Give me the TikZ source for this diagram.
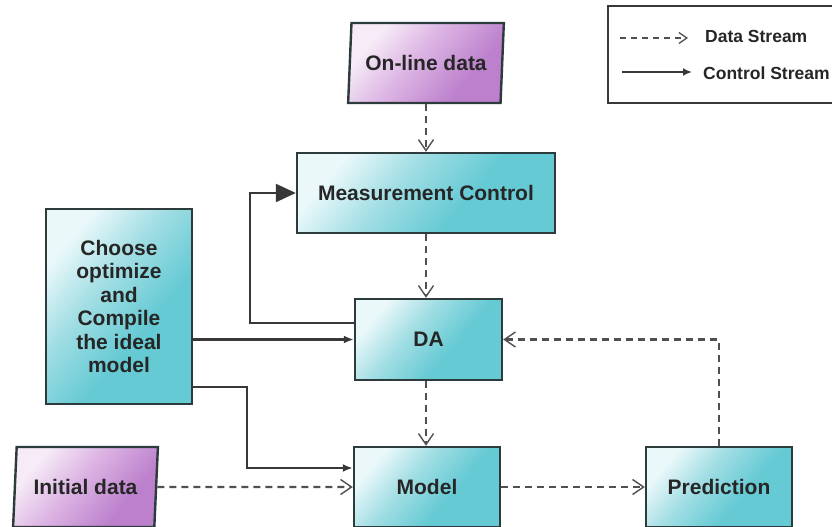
\documentclass[tikz,border=0pt]{standalone}
\usepackage{fontspec}
\setmainfont{Liberation Sans}
\usetikzlibrary{shapes.geometric,arrows.meta}
\definecolor{cyanlight}{HTML}{EAF8FA}
\definecolor{cyanmid}{HTML}{A2DEE4}
\definecolor{cyandark}{HTML}{66CAD4}
\definecolor{purplelight}{HTML}{F6EBF7}
\definecolor{purplemid}{HTML}{DDB6E4}
\definecolor{purpledark}{HTML}{BC80CC}
\definecolor{edgegray}{HTML}{2E3B3D}
\definecolor{linegray}{HTML}{383838}
\definecolor{dashgray}{HTML}{505050}
\pgfdeclarehorizontalshading{cyanshade}{100bp}{color(0bp)=(cyanlight); color(26bp)=(cyanlight); color(42bp)=(cyanmid); color(60bp)=(cyandark); color(100bp)=(cyandark)}
\pgfdeclarehorizontalshading{purpleshade}{100bp}{color(0bp)=(purplelight); color(27bp)=(purplelight); color(45bp)=(purplemid); color(68bp)=(purpledark); color(100bp)=(purpledark)}
\tikzset{
  procbox/.style={draw=edgegray, line width=2.4pt, inner sep=0pt,
    shading=cyanshade, shading angle=-40,
    font=\bfseries\fontsize{21}{23.5}\selectfont, text=black!85, align=center},
  databox/.style={trapezium, trapezium left angle=80, trapezium right angle=100,
    trapezium stretches=true, draw=edgegray, line width=2.4pt, inner sep=0pt,
    shading=purpleshade, shading angle=-40,
    font=\bfseries\fontsize{21}{23.5}\selectfont, text=black!85},
  dataflow/.style={draw=dashgray, line width=2.2pt, dash pattern=on 7pt off 5pt,
    -{Straight Barb[length=11pt,width=15pt,line width=1.4pt]}},
  ctrlflow/.style={draw=linegray, line width=2.2pt, -{Latex[length=10pt,width=8pt]}},
  bigctrl/.style={draw=linegray, line width=2.2pt, -{Triangle[length=20pt,width=18pt]}},
  legendtext/.style={font=\bfseries\fontsize{17.5}{20}\selectfont, text=black!85, anchor=west, inner sep=0pt}
}
\begin{document}
\begin{tikzpicture}[x=1pt,y=-1pt]
\clip (0,0) rectangle (832,527);
\fill[white] (0,0) rectangle (832,527);

% legend
\node[draw=linegray, line width=2.2pt, minimum width=232pt, minimum height=97pt, inner sep=0pt] (legend) at (724,54.5) {};
\coordinate (l1a) at (620,38);
\coordinate (l1b) at (688,38);
\coordinate (l2a) at (622,72);
\coordinate (l2b) at (692,72);
\draw[draw=dashgray, line width=2pt, dash pattern=on 6pt off 5pt,
  -{Straight Barb[length=8pt,width=11pt,line width=1.3pt]}] (l1a) -- (l1b);
\draw[draw=linegray, line width=2pt, -{Latex[length=9pt,width=8pt]}] (l2a) -- (l2b);
\node[legendtext] (t1) at (705,36) {Data Stream};
\node[legendtext] (t2) at (703,73) {Control Stream};

% nodes
\node[databox, minimum width=156pt, minimum height=80pt] (online) at (426,63) {On-line data};
\node[procbox, minimum width=258pt, minimum height=80pt] (mc) at (426,193) {Measurement Control};
\node[procbox, minimum width=147pt, minimum height=81pt] (da) at (428.5,339.5) {DA};
\node[procbox, minimum width=146pt, minimum height=80pt] (model) at (427,487) {Model};
\node[procbox, minimum width=146pt, minimum height=80pt] (pred) at (719,487) {Prediction};
\node[procbox, minimum width=146pt, minimum height=195pt] (choose) at (119,306.5) {Choose\\optimize\\and\\Compile\\the ideal\\model};
\node[databox, minimum width=145pt, minimum height=80pt] (init) at (85.5,487) {Initial data};

% data streams
\draw[dataflow] (online.south -| mc.north) -- (mc.north);
\draw[dataflow] (mc.south) -- (mc.south |- da.north);
\draw[dataflow] (mc.south |- da.south) -- (mc.south |- model.north);
\draw[dataflow] (init.east) -- (model.west);
\draw[dataflow] (model.east) -- (pred.west);
\draw[dataflow] (pred.north) -- (pred.north |- da.east) -- (da.east);

% control streams
\coordinate (c1) at (250,323);
\coordinate (c2) at (250,193);
\draw[bigctrl] (da.west |- c1) -- (c1) -- (c2) -- (mc.west);
\draw[ctrlflow] (choose.east |- da.east) -- (da.west);
\coordinate (c3) at (247,387);
\coordinate (c4) at (247,468);
\draw[ctrlflow] (choose.east |- c3) -- (c3) -- (c4) -- (model.west |- c4);
\end{tikzpicture}
\end{document}
